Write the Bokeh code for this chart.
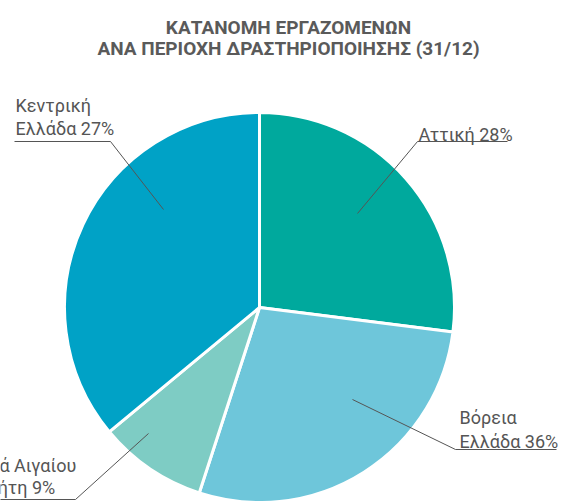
import math
from bokeh.plotting import figure
from bokeh.models import Range1d, ColumnDataSource
from bokeh.core.properties import value
from bokeh.embed import file_html
from bokeh.resources import INLINE

# ---------------- data ----------------
regions = ["Αττική", "Βόρεια Ελλάδα", "Νησιά Αιγαίου & Κρήτη", "Κεντρική Ελλάδα"]
shares = [27, 28, 9, 36]  # slice sizes as drawn (%)
colors = ["#00A99D", "#6EC6DA", "#7ECCC4", "#00A2C6"]
label_lines = [
    ["Αττική 28%"],
    ["Βόρεια", "Ελλάδα 36%"],
    ["Νησιά Αιγαίου", "& Κρήτη 9%"],
    ["Κεντρική", "Ελλάδα 27%"],
]
title_lines = ["ΚΑΤΑΝΟΜΗ ΕΡΓΑΖΟΜΕΝΩΝ", "ΑΝΑ ΠΕΡΙΟΧΗ ΔΡΑΣΤΗΡΙΟΠΟΙΗΣΗΣ (31/12)"]

# ---------------- layout (pixel space of the window) ----------------
W, H = 561, 501
def Y(py):
    return H - py

CX, CY, R = 259, 307, 195
FONT = value("Roboto")
GREY = "#555555"

p = figure(width=W, height=H, output_backend="svg", toolbar_location=None,
           x_range=Range1d(0, W), y_range=Range1d(0, H),
           x_axis_type=None, y_axis_type=None, min_border=0,
           margin=(0, 0, 0, 0))
p.grid.visible = False
p.outline_line_color = None
p.background_fill_color = "white"
p.border_fill_color = "white"

# pie: clockwise from 12 o'clock
total = float(sum(shares))
starts, ends = [], []
cum = 0.0
for s in shares:
    a0 = math.pi / 2 - 2 * math.pi * cum / total
    cum += s
    a1 = math.pi / 2 - 2 * math.pi * cum / total
    starts.append(a0)
    ends.append(a1)
src = ColumnDataSource(dict(x=[CX] * len(shares), y=[Y(CY)] * len(shares),
                            start=starts, end=ends, color=colors, region=regions))
p.wedge(x="x", y="y", radius=R, start_angle="start", end_angle="end",
        direction="clock", fill_color="color", line_color="white",
        line_width=3, source=src)

# leader lines: (underline start, underline end/elbow, inner point)
leaders = [
    [(507, 141), (417, 141), (357, 213)],
    [(556, 449), (455, 449), (352, 399)],
    [(-44, 499), (75, 499), (148, 433)],
    [(14, 141), (110, 141), (163, 209)],
]
for pts in leaders:
    p.line([q[0] for q in pts], [Y(q[1]) for q in pts], line_color=GREY, line_width=1)

# label texts: (x, first baseline, line spacing)
label_pos = [
    (418, 134, 24),
    (459, 417, 24),
    (-40, 465, 22),
    (15, 105, 23),
]
tx, ty, tt = [], [], []
for lines, (lx, ly, dy) in zip(label_lines, label_pos):
    for i, t in enumerate(lines):
        tx.append(lx)
        ty.append(Y(ly + i * dy))
        tt.append(t)
p.text(x=tx, y=ty, text=tt, text_font=FONT, text_font_size="18px",
       text_color=GREY, text_align="left", text_baseline="alphabetic")

# title
p.text(x=[288, 288], y=[Y(27), Y(48)], text=title_lines, text_font=FONT,
       text_font_size="19px", text_font_style="bold", text_color="#5a5a5a",
       text_align="center", text_baseline="alphabetic")

open("out.html", "w").write(file_html(p, INLINE))
